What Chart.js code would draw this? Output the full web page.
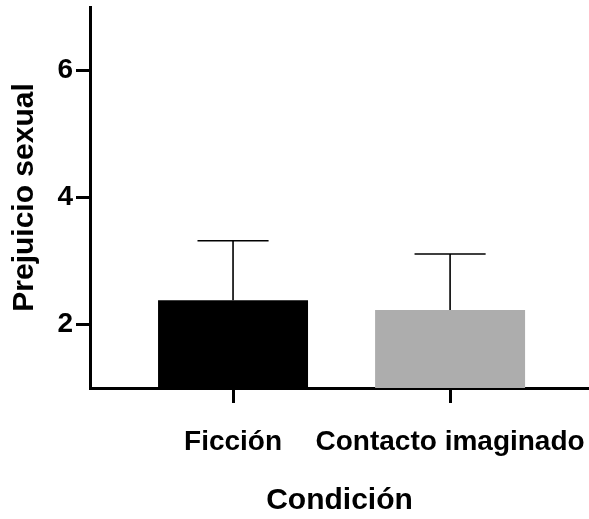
<!DOCTYPE html>
<html>
<head>
<meta charset="utf-8">
<script src="https://cdn.jsdelivr.net/npm/chart.js@4"></script>
<style>
  html, body { margin: 0; padding: 0; background: #fff; }
  canvas { display: block; }
</style>
</head>
<body>
<canvas id="chart" width="589" height="519"></canvas>
<script>
// Data
const categories = ['Ficción', 'Contacto imaginado'];
const positions = [1, 2];
const means = [2.38, 2.23];
const errorUp = [0.94, 0.88];
const barColors = ['#000000', '#adadad'];
const yTicks = [2, 4, 6];

const FONT = "'Liberation Sans', Arial, Helvetica, sans-serif";

// Draws the upper error bar above each bar
const errorBars = {
    id: 'errorBars',
    afterDatasetsDraw(chart) {
        const ctx = chart.ctx;
        const yScale = chart.scales.y;
        const meta = chart.getDatasetMeta(0);
        ctx.save();
        ctx.strokeStyle = '#000';
        ctx.lineWidth = 1.6;
        meta.data.forEach((bar, i) => {
            const top = yScale.getPixelForValue(means[i] + errorUp[i]);
            const capHalf = bar.width * 0.237;
            ctx.beginPath();
            ctx.moveTo(bar.x, bar.y);
            ctx.lineTo(bar.x, top);
            ctx.moveTo(bar.x - capHalf, top);
            ctx.lineTo(bar.x + capHalf, top);
            ctx.stroke();
        });
        ctx.restore();
    }
};

new Chart(document.getElementById('chart').getContext('2d'), {
    type: 'bar',
    data: {
        datasets: [{
            data: positions.map((p, i) => ({ x: p, y: means[i] })),
            backgroundColor: barColors,
            borderWidth: 0,
            barPercentage: 0.691,
            categoryPercentage: 1
        }]
    },
    options: {
        responsive: false,
        animation: false,
        layout: { padding: { top: 7, right: 0, left: 0, bottom: 0 } },
        plugins: {
            legend: { display: false },
            tooltip: { enabled: false }
        },
        scales: {
            x: {
                type: 'linear',
                offset: false,
                min: 0.341,
                max: 2.64,
                afterBuildTicks: (scale) => { scale.ticks = positions.map(v => ({ value: v })); },
                afterFit: (scale) => {
                    scale.height = 131;
                    scale.paddingLeft = 0;
                    scale.paddingRight = 0;
                },
                border: { display: true, color: '#000', width: 3 },
                grid: {
                    display: true,
                    offset: false,
                    drawOnChartArea: false,
                    drawTicks: true,
                    tickLength: 15,
                    tickWidth: 3,
                    tickColor: '#000'
                },
                ticks: {
                    autoSkip: false,
                    maxRotation: 0,
                    padding: 22,
                    color: '#000',
                    font: { family: FONT, size: 28, weight: 'bold' },
                    callback: (v) => categories[positions.indexOf(v)]
                },
                title: {
                    display: true,
                    text: 'Condición',
                    color: '#000',
                    font: { family: FONT, size: 30, weight: 'bold' },
                    padding: { top: 0, bottom: 0 }
                }
            },
            y: {
                min: 1,
                max: 7,
                afterBuildTicks: (scale) => { scale.ticks = yTicks.map(v => ({ value: v })); },
                afterFit: (scale) => {
                    scale.width = 90;
                    scale.paddingTop = 0;
                    scale.paddingBottom = 0;
                },
                border: { display: true, color: '#000', width: 3 },
                grid: {
                    display: true,
                    drawOnChartArea: false,
                    drawTicks: true,
                    tickLength: 14,
                    tickWidth: 3,
                    tickColor: '#000'
                },
                ticks: {
                    padding: 3,
                    color: '#000',
                    font: { family: FONT, size: 28, weight: 'bold' }
                },
                title: {
                    display: true,
                    text: 'Prejuicio sexual',
                    color: '#000',
                    font: { family: FONT, size: 30, weight: 'bold' },
                    padding: { top: 7, bottom: 0 }
                }
            }
        }
    },
    plugins: [errorBars]
});
</script>
</body>
</html>
